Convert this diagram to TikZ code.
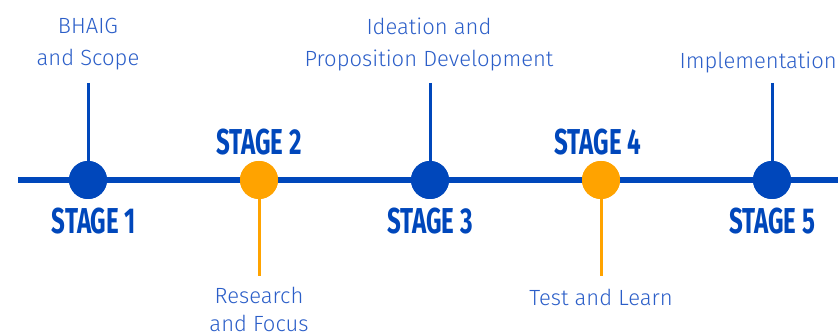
\documentclass[tikz,border=0pt]{standalone}
\usepackage{fontspec}
\setmainfont{Fira Sans Light}
\newfontfamily\stagefont[FakeStretch=0.67]{Fira Sans Bold}
\definecolor{tlblue}{HTML}{0047BB}
\definecolor{txtblue}{HTML}{2B5EC8}
\definecolor{tlorange}{HTML}{FFA300}
\tikzset{
  mainline/.style={draw=tlblue, line width=6pt},
  dotblue/.style={circle, fill=tlblue, minimum size=38pt, inner sep=0pt},
  dotorange/.style={circle, fill=tlorange, minimum size=38pt, inner sep=0pt},
  stemblue/.style={draw=tlblue, line width=3pt},
  stemorange/.style={draw=tlorange, line width=3pt},
  stagelabel/.style={text=tlblue, font=\stagefont\fontsize{36}{36}\selectfont, inner sep=0pt, anchor=center},
  desc/.style={text=txtblue, font=\fontsize{22}{32}\selectfont, inner sep=0pt, align=center, anchor=center}
}
\begin{document}
\begin{tikzpicture}[x=1pt,y=-1pt]
\useasboundingbox (0,0) rectangle (838,336);
\coordinate (ls) at (18,180);
\coordinate (le) at (845,180);
\draw[mainline] (ls) -- (le);
% stems
\coordinate (t1) at (88,83);
\coordinate (t3) at (430,83);
\coordinate (t5) at (772,83);
\coordinate (b2) at (259,276);
\coordinate (b4) at (601,276);
\node[dotblue] (s1) at (88,180) {};
\node[dotorange] (s2) at (259,180) {};
\node[dotblue] (s3) at (430,180) {};
\node[dotorange] (s4) at (601,180) {};
\node[dotblue] (s5) at (772,180) {};
\draw[stemblue] (t1) -- (s1.center);
\draw[stemblue] (t3) -- (s3.center);
\draw[stemblue] (t5) -- (s5.center);
\draw[stemorange] (s2.center) -- (b2);
\draw[stemorange] (s4.center) -- (b4);
\node[dotblue] at (s1) {};
\node[dotorange] at (s2) {};
\node[dotblue] at (s3) {};
\node[dotorange] at (s4) {};
\node[dotblue] at (s5) {};
% stage labels
\node[stagelabel] (l1) at (94,221) {STAGE 1};
\node[stagelabel] (l2) at (259,142) {STAGE 2};
\node[stagelabel] (l3) at (430,221) {STAGE 3};
\node[stagelabel] (l4) at (598,142) {STAGE 4};
\node[stagelabel] (l5) at (772,221) {STAGE 5};
% descriptions
\node[desc] (d1) at (88,44) {BHAIG\\and Scope};
\node[desc] (d3) at (429,44) {Ideation and\\Proposition Development};
\node[desc, anchor=east] (d5) at (837,62) {Implementation};
\node[desc, font=\fontsize{22}{28}\selectfont] (d2) at (259,309) {Research\\and Focus};
\node[desc] (d4) at (601,297) {Test and Learn};
\end{tikzpicture}
\end{document}
